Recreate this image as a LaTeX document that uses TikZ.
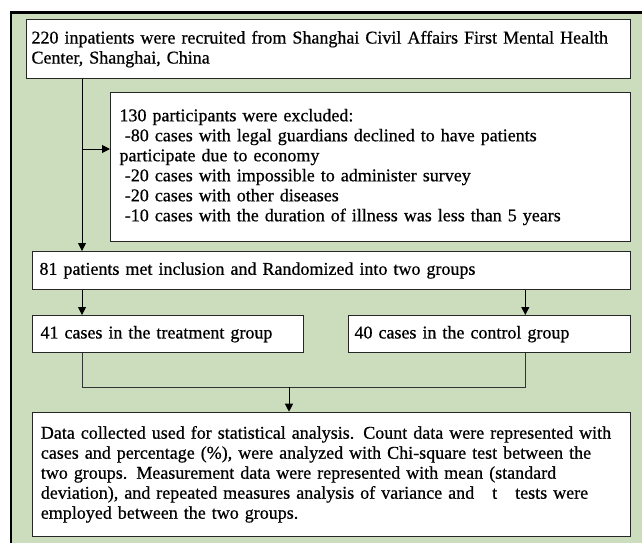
\documentclass[tikz,border=0pt]{standalone}
\usepackage{xcolor}
\usepackage{fontspec}
\setmainfont{Liberation Serif}
\newfontfamily\flowfont[FakeBold=0.6]{Liberation Serif}
\usetikzlibrary{arrows.meta}

\definecolor{panelgreen}{RGB}{204,221,189}

\tikzset{
  flowbox/.style={draw=black!85, fill=white, line width=0.75pt, anchor=north west,
    align=left, font=\flowfont\fontsize{13.5}{15}\selectfont, inner ysep=0pt},
  flowarrow/.style={-{Triangle[length=6pt,width=6pt]}, line width=0.75pt},
  joinline/.style={line width=0.6pt, black!80},
}

\begin{document}
\begin{tikzpicture}[x=0.75pt,y=0.75pt,yscale=-1,xscale=1]
\useasboundingbox (0,0) rectangle (642,543);

%Shape: Rectangle (panel)
\fill[panelgreen] (11,12.5) rectangle (642,543);
\draw[line width=1.7pt] (11,543) -- (11,12.5) -- (642,12.5);

% Text Node
\node[flowbox, inner xsep=3.75pt, text width=445.5pt, minimum height=44.5pt] (recruit) at (26,19)
  {220 inpatients were recruited from Shanghai Civil Affairs First Mental Health\\
   Center, Shanghai, China};
% Text Node
\node[flowbox, inner xsep=6.75pt, text width=376.5pt, minimum height=111.75pt] (exclude) at (110,92)
  {130 participants were excluded:\\
   \hspace*{4pt}-80 cases with legal guardians declined to have patients\\
   participate due to economy\\
   \hspace*{4pt}-20 cases with impossible to administer survey\\
   \hspace*{4pt}-20 cases with other diseases\\
   \hspace*{4pt}-10 cases with the duration of illness was less than 5 years};
% Text Node
\node[flowbox, inner xsep=5.25pt, text width=438pt, minimum height=28.5pt] (random) at (32,251)
  {81 patients met inclusion and Randomized into two groups};
% Text Node
\node[flowbox, inner xsep=6pt, text width=191.25pt, minimum height=28pt] (treat) at (32,315)
  {41 cases in the treatment group};
% Text Node
\node[flowbox, inner xsep=4.5pt, text width=202.5pt, minimum height=28pt] (control) at (348,315)
  {40 cases in the control group};
% Text Node
\node[flowbox, inner xsep=6.25pt, text width=436pt, minimum height=93.2pt] (analysis) at (32,411.7)
  {Data collected used for statistical analysis. Count data were represented with\\
   cases and percentage (\%), were analyzed with Chi-square test between the\\
   two groups. Measurement data were represented with mean (standard\\
   deviation), and repeated measures analysis of variance and\hspace{1em}t\hspace{1em}tests were\\
   employed between the two groups.};

%Straight Lines
\coordinate (lcol) at (82,149);
\coordinate (rcol) at (525.3,0);
\coordinate (mcol) at (289,387.3);
\draw[flowarrow] (recruit.south -| lcol) -- (random.north -| lcol);
\draw[flowarrow] (lcol) -- (lcol -| exclude.west);
\draw[flowarrow] (random.south -| lcol) -- (treat.north -| lcol);
\draw[flowarrow] (random.south -| rcol) -- (control.north -| rcol);
\draw[joinline] (treat.south -| lcol) -- (lcol |- mcol) -- (rcol |- mcol) -- (control.south -| rcol);
\draw[flowarrow] (mcol) -- (analysis.north -| mcol);

\end{tikzpicture}
\end{document}
